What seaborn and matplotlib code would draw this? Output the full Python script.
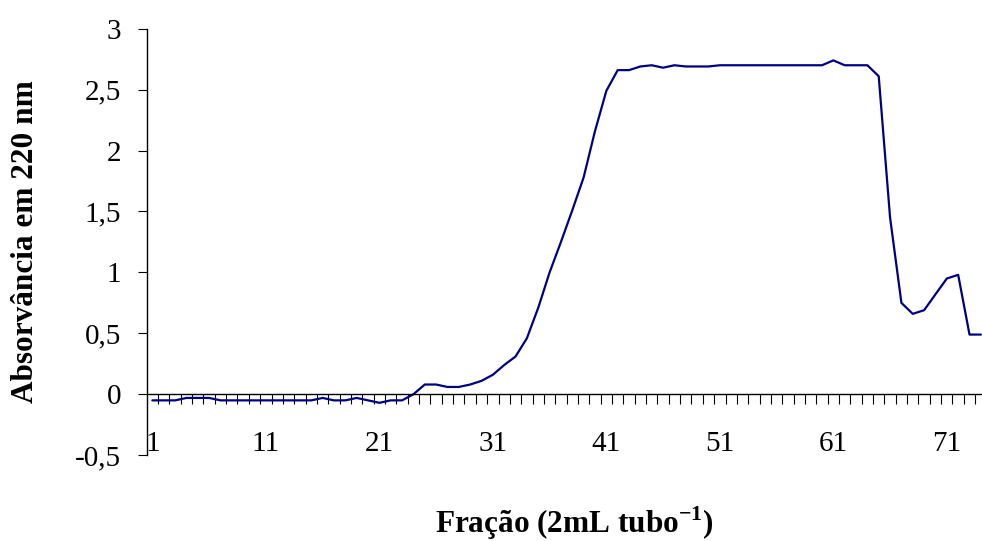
import matplotlib
matplotlib.use("Agg")
import matplotlib.pyplot as plt
import seaborn as sns
import numpy as np
import pandas as pd

# ---- data ----
fracao = list(range(1, 75))
absorbancia = [
    -0.05, -0.05, -0.05, -0.03, -0.03, -0.03, -0.05, -0.05, -0.05, -0.05,
    -0.05, -0.05, -0.05, -0.05, -0.05, -0.03, -0.05, -0.05, -0.03, -0.05,
    -0.07, -0.05, -0.05, 0.00, 0.08, 0.08, 0.06, 0.06, 0.08, 0.11,
    0.16, 0.24, 0.31, 0.46, 0.71, 1.00, 1.25, 1.51, 1.78, 2.16,
    2.49, 2.66, 2.66, 2.69, 2.70, 2.68, 2.70, 2.69, 2.69, 2.69,
    2.70, 2.70, 2.70, 2.70, 2.70, 2.70, 2.70, 2.70, 2.70, 2.70,
    2.74, 2.70, 2.70, 2.70, 2.61, 1.45, 0.75, 0.66, 0.69, 0.82,
    0.95, 0.98, 0.49, 0.49,
]
y_ticks = [-0.5, 0, 0.5, 1, 1.5, 2, 2.5, 3]
y_ticklabels = ["-0,5", "0", "0,5", "1", "1,5", "2", "2,5", "3"]
x_labeled = [1, 11, 21, 31, 41, 51, 61, 71]
x_title = "Fração (2mL tubo$^{\\mathbf{-1}}$)"
y_title = "Absorvância em 220 nm"

df = pd.DataFrame({"Fracao": fracao, "Abs": absorbancia})

sns.set_style("white")
plt.rcParams["font.family"] = ["Liberation Serif", "DejaVu Serif"]
plt.rcParams["mathtext.fontset"] = "custom"
plt.rcParams["mathtext.rm"] = "Liberation Serif"
plt.rcParams["mathtext.bf"] = "Liberation Serif:bold"
plt.rcParams["text.color"] = "black"
plt.rcParams["axes.labelcolor"] = "black"

W, H = 982, 541
fig = plt.figure(figsize=(W / 100, H / 100), dpi=100)
x0, x1 = 146.7, 982.0
ytop, ybot = 28.7, 455.2
ax = fig.add_axes([x0 / W, 1 - ybot / H, (x1 - x0) / W, (ybot - ytop) / H])

sns.lineplot(data=df, x="Fracao", y="Abs", ax=ax, color="#000080",
             linewidth=1.6, legend=False)

ax.set_xlim(0.5, 74.1)
ax.set_ylim(-0.5, 3)

for s in ["top", "right"]:
    ax.spines[s].set_visible(False)
ax.spines["bottom"].set_position(("data", 0))
ax.spines["left"].set_linewidth(1.0)
ax.spines["bottom"].set_linewidth(1.0)
ax.spines["left"].set_color("black")
ax.spines["bottom"].set_color("black")

ax.set_yticks(y_ticks)
ax.set_yticklabels(y_ticklabels)
ax.tick_params(axis="y", direction="out", length=6.5, width=0.8, pad=12,
               labelsize=21, colors="black", left=True)

ax.set_xticks(x_labeled)
ax.set_xticklabels([str(v) for v in x_labeled])
ax.set_xticks([v + 0.5 for v in fracao[:-1]], minor=True)
ax.tick_params(axis="x", which="major", length=0, pad=26.5, labelsize=21,
               colors="black", bottom=True)
ax.tick_params(axis="x", which="minor", direction="out", length=7, width=0.8,
               colors="black", bottom=True)

ax.set_xlabel(x_title, fontsize=22.5, fontweight="bold", va="baseline",
              color="black")
ax.xaxis.set_label_coords((574 - x0) / (x1 - x0), -(533.5 - ybot) / (ybot - ytop))
ax.set_ylabel(y_title, fontsize=22.5, fontweight="bold", va="baseline",
              color="black")
ax.yaxis.set_label_coords(-(x0 - 33) / (x1 - x0), (ybot - 241.7) / (ybot - ytop))

ax.grid(False)
fig.savefig("out.png", dpi=100)
